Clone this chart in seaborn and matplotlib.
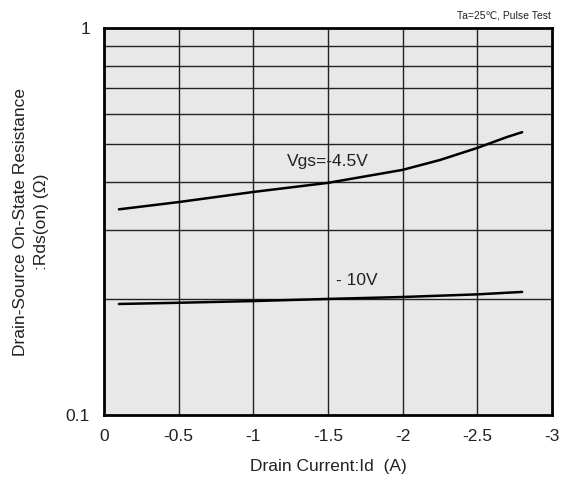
import pandas as pd
import numpy as np
import matplotlib.pyplot as plt
import seaborn as sns

# curve values
id_45 = [-0.1, -0.5, -1.0, -1.5, -2.0, -2.25, -2.5, -2.7, -2.8]
rds_45 = [0.340, 0.355, 0.377, 0.398, 0.430, 0.456, 0.490, 0.523, 0.538]

id_10 = [-0.1, -0.5, -1.0, -1.5, -2.0, -2.5, -2.8]
rds_10 = [0.1936, 0.195, 0.197, 0.1995, 0.2018, 0.205, 0.208]

x_ticks = [0, -0.5, -1, -1.5, -2, -2.5, -3]
x_labels = ['0', '-0.5', '-1', '-1.5', '-2', '-2.5', '-3']
y_minor = [0.2, 0.3, 0.4, 0.5, 0.6, 0.7, 0.8, 0.9]

df = pd.concat([
    pd.DataFrame({'Id': id_45, 'Rds': rds_45, 'Vgs': '-4.5V'}),
    pd.DataFrame({'Id': id_10, 'Rds': rds_10, 'Vgs': '-10V'}),
])

sns.set_style('white')
plt.rcParams['font.family'] = ['Liberation Sans', 'DejaVu Sans']
plt.rcParams['text.color'] = '#222222'
plt.rcParams['axes.labelcolor'] = '#222222'
plt.rcParams['xtick.labelcolor'] = '#222222'
plt.rcParams['ytick.labelcolor'] = '#222222'

fig = plt.figure(figsize=(5.61, 4.99), dpi=100)
ax = fig.add_axes([0.1854, 0.1683, 0.7986, 0.7756])
ax.set_facecolor('#e8e8e8')

sns.lineplot(data=df, x='Id', y='Rds', units='Vgs', estimator=None,
             color='black', linewidth=1.8, sort=False, ax=ax, legend=False)

ax.set_yscale('log')
ax.set_xlim(0, -3)
ax.set_ylim(0.1, 1)

ax.set_xticks(x_ticks)
ax.set_xticklabels(x_labels, fontsize=12.5)
ax.set_yticks([0.1, 1])
ax.set_yticklabels(['0.1', '1'], fontsize=12.5)
ax.set_yticks(y_minor, minor=True)
ax.yaxis.set_minor_formatter(plt.NullFormatter())
ax.tick_params(which='both', length=0, pad=10)

for xv in x_ticks[1:-1]:
    ax.axvline(xv, color='#222222', linewidth=1.0, zorder=1)
for yv in y_minor:
    ax.axhline(yv, color='#222222', linewidth=1.0, zorder=1)

for s in ax.spines.values():
    s.set_linewidth(2.0)
    s.set_color('black')

ax.set_xlabel('Drain Current:Id  (A)', fontsize=12.5, labelpad=11)
ax.set_ylabel('Drain-Source On-State Resistance\n:Rds(on) (\u03a9)', fontsize=12.5,
              labelpad=12, linespacing=1.55)

ax.text(-1.5, 0.452, 'Vgs=-4.5V', fontsize=12.5, ha='center', va='center')
ax.text(-1.69, 0.222, '- 10V', fontsize=12.5, ha='center', va='center')

fig.text(0.982, 0.968, 'Ta=25\u2103, Pulse Test', fontsize=7.5,
         ha='right', va='center')

plt.savefig('out.png', dpi=100)
